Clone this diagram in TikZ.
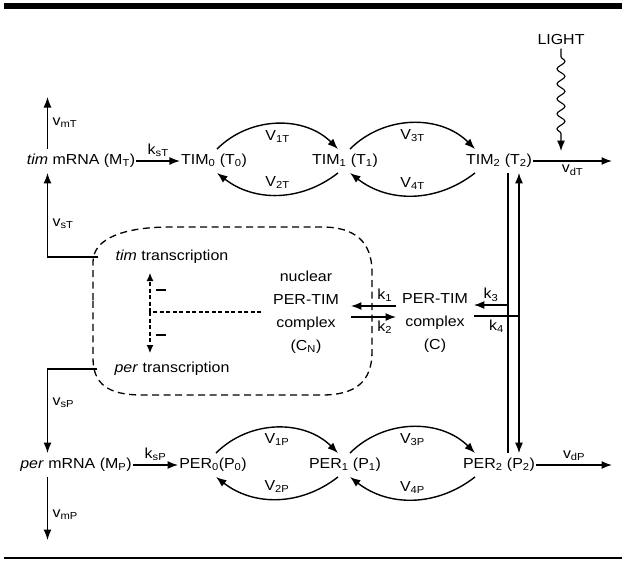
\documentclass[tikz,border=0pt]{standalone}
\usepackage{fontspec}
\setmainfont{Liberation Sans}[FakeStretch=1.1]
\usetikzlibrary{arrows.meta,decorations.pathmorphing}

\begin{document}
\begin{tikzpicture}[
    x=1pt,
    y=-1pt,
    every node/.style={font=\fontsize{14.5}{23}\selectfont},
    species/.style={
        inner xsep=1pt,
        inner ysep=5pt
    },
    complexbox/.style={
        align=center,
        inner ysep=2pt
    },
    arrow/.style={-{Latex[length=10.5pt,width=8pt]}, line width=1.4pt},
    link/.style={line width=1.1pt},
    inhib/.style={-{Latex[length=8pt,width=7pt]}, dash pattern=on 4pt off 2.5pt, line width=1.1pt},
    nucleus/.style={dash pattern=on 7pt off 4.5pt, line width=1.3pt},
    wave/.style={decorate, decoration={snake, amplitude=4pt, segment length=15pt, pre length=8pt, post length=16pt}}
]
\useasboundingbox (0,0) rectangle (626,560);
\fill (4,3) rectangle (622,9);
\draw[line width=1.3pt] (4,558) -- (622,558);

\node[species] (mT) at (81,161) {\textit{tim} mRNA (M\textsubscript{T})};
\node[species] (T0) at (214,161) {TIM\textsubscript{0} (T\textsubscript{0})};
\node[species] (T1) at (345,161) {TIM\textsubscript{1} (T\textsubscript{1})};
\node[species] (T2) at (499,161) {TIM\textsubscript{2} (T\textsubscript{2})};
\node[species] (mP) at (76,465) {\textit{per} mRNA (M\textsubscript{P})};
\node[species] (P0) at (213,465) {PER\textsubscript{0}(P\textsubscript{0})};
\node[species] (P1) at (345,465) {PER\textsubscript{1} (P\textsubscript{1})};
\node[species] (P2) at (499,465) {PER\textsubscript{2} (P\textsubscript{2})};
\node (ttr) at (172,257) {\textit{tim} transcription};
\node (ptr) at (172,369) {\textit{per} transcription};
\node[complexbox, inner xsep=12pt] (CN) at (306,312) {nuclear\\PER-TIM\\complex\\(C\textsubscript{N})};
\node[complexbox, inner xsep=6pt] (C) at (435,323) {PER-TIM\\complex\\(C)};
\node (light) at (561,40) {LIGHT};
\node (minusT) at (161,290) {\rule{10pt}{2pt}};
\node (minusP) at (161,335) {\rule{10pt}{2pt}};

\coordinate (mx) at (47.5,0);
\coordinate (mTout) at (47.5,97);
\coordinate (mPout) at (47.5,540);
\coordinate (dT) at (612,161);
\coordinate (dP) at (612,465);
\coordinate (lt) at (561,151);
\coordinate (k1y) at (0,306);
\coordinate (k2y) at (0,317);
\coordinate (k3j) at (508,305);
\coordinate (k4j) at (519,316);
\coordinate (jn) at (150,312);
\coordinate (upT) at (150,273);
\coordinate (dnP) at (150,353);

\draw[arrow] (mT.north -| mx) -- node[right=1pt] {v\textsubscript{mT}} (mTout);
\draw[arrow] ([xshift=-14pt]ttr.west) -| node[pos=0.7, right=1pt] {v\textsubscript{sT}} (mT.south -| mx);
\draw[arrow] (mT) -- node[above] {k\textsubscript{sT}} (T0);
\draw[arrow] ([xshift=3pt]T0.north) to[bend left=45] node[below=2pt] {V\textsubscript{1T}} ([xshift=-7pt]T1.north);
\draw[arrow] ([xshift=-7pt]T1.south) to[bend left=38] node[above=2pt] {V\textsubscript{2T}} ([xshift=3pt]T0.south);
\draw[arrow] ([xshift=5pt]T1.north) to[bend left=45] node[below=2pt] {V\textsubscript{3T}} ([xshift=-24pt]T2.north);
\draw[arrow] ([xshift=-24pt]T2.south) to[bend left=38] node[above=2pt] {V\textsubscript{4T}} ([xshift=5pt]T1.south);
\draw[arrow] (T2) -- node[below] {v\textsubscript{dT}} (dT);
\draw[arrow, wave, line width=1.1pt] (light) -- (lt);

\draw[arrow] ([xshift=-14pt]ptr.west) -| node[pos=0.7, right=1pt] {v\textsubscript{sP}} (mP.north -| mx);
\draw[arrow] (mP.south -| mx) -- node[pos=0.6, right=1pt] {v\textsubscript{mP}} (mPout);
\draw[arrow] (mP) -- node[above] {k\textsubscript{sP}} (P0);
\draw[arrow] ([xshift=3pt]P0.north) to[bend left=45] node[below=2pt] {V\textsubscript{1P}} ([xshift=-7pt]P1.north);
\draw[arrow] ([xshift=-7pt]P1.south) to[bend left=38] node[above=2pt] {V\textsubscript{2P}} ([xshift=3pt]P0.south);
\draw[arrow] ([xshift=5pt]P1.north) to[bend left=45] node[below=2pt] {V\textsubscript{3P}} ([xshift=-24pt]P2.north);
\draw[arrow] ([xshift=-24pt]P2.south) to[bend left=38] node[above=2pt] {V\textsubscript{4P}} ([xshift=5pt]P1.south);
\draw[arrow] (P2) -- node[above] {v\textsubscript{dP}} (dP);

\draw[link] (T2.south -| k3j) -- (P2.north -| k3j);
\draw[arrow, line width=1.1pt] (k3j) -- node[above] {k\textsubscript{3}} (C.east |- k3j);
\draw[link] (C.east |- k4j) -- node[below] {k\textsubscript{4}} (k4j);
\draw[arrow, line width=1.1pt] (k4j) -- (T2.south -| k4j);
\draw[arrow, line width=1.1pt] (k4j) -- (P2.north -| k4j);
\draw[arrow] (C.west |- k1y) -- node[above, pos=0.25] {k\textsubscript{1}} (CN.east |- k1y);
\draw[arrow] (CN.east |- k2y) -- node[below, pos=0.75] {k\textsubscript{2}} (C.west |- k2y);

\draw[nucleus] (93,300) -- (93,262) .. controls (93,238) and (125,227) .. (170,227) -- (322,227) .. controls (355,227) and (372,242) .. (372,272) -- (372,352) .. controls (372,382) and (355,395) .. (322,395) -- (142,395) .. controls (108,395) and (93,384) .. (93,358) -- cycle;
\draw[inhib] (jn) -- (upT);
\draw[inhib] (jn) -- (dnP);
\draw[inhib, -] (CN.west) -- (jn);
\end{tikzpicture}
\end{document}
